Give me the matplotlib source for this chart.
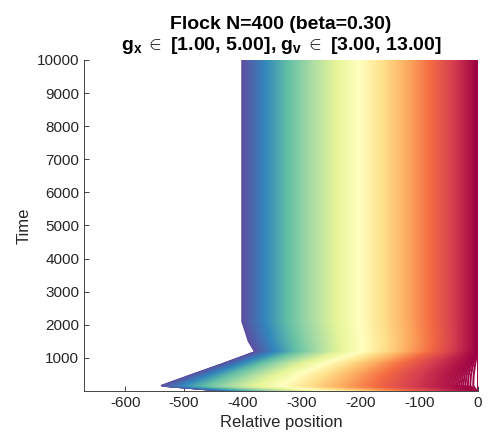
import numpy as np
import matplotlib
matplotlib.use("Agg")
from matplotlib import pyplot as plt
from matplotlib.collections import LineCollection

plt.rcParams['font.family'] = ['Liberation Sans', 'DejaVu Sans']
plt.rcParams['mathtext.fontset'] = 'custom'
plt.rcParams['mathtext.rm'] = 'Liberation Sans'
plt.rcParams['mathtext.bf'] = 'Liberation Sans:bold'
plt.rcParams['axes.unicode_minus'] = False

# flock settings
n_agents = 400

# key times of the flock envelope
key_times = [0, 160, 480, 800, 1180, 1500, 2100, 10000]
# position of the rearmost agent at those times (leader sits at 0)
rear_pos = [-430, -538, -488, -437, -379, -390, -401, -401]
# spacing exponent at those times (1 = even spacing)
spacing_exp = [0.9, 0.7, 0.7, 0.75, 0.95, 1.0, 1.0, 1.0]

xticks = [-600, -500, -400, -300, -200, -100, 0]
yticks = [1000, 2000, 3000, 4000, 5000, 6000, 7000, 8000, 9000, 10000]

fig = plt.figure(figsize=(4.89, 4.44), dpi=100)
ax = fig.add_axes([0.172, 0.1194, 0.8055, 0.7455])

s = np.arange(n_agents) / (n_agents - 1)   # 0 = rear, 1 = leader
cmap = plt.get_cmap('Spectral_r')

segs = []
cols = []
for i in range(n_agents):
    xs = [r * (1 - s[i]) ** p for r, p in zip(rear_pos, spacing_exp)]
    segs.append(np.column_stack([xs, key_times]))
    cols.append(cmap(s[i]))

lc = LineCollection(segs, colors=cols, linewidths=1.4)
ax.add_collection(lc)

ax.set_xlim(-670, 0)
ax.set_ylim(0, 10000)
ax.set_xticks(xticks)
ax.set_yticks(yticks)

grey = '#262626'
for side in ['top', 'right']:
    ax.spines[side].set_visible(False)
for side in ['left', 'bottom']:
    ax.spines[side].set_color(grey)
    ax.spines[side].set_linewidth(0.6)
ax.tick_params(direction='in', length=3.5, width=0.6, colors=grey,
               labelsize=11, labelcolor=grey)

ax.set_xlabel('Relative position', fontsize=12, color=grey)
ax.set_ylabel('Time', fontsize=12, color=grey)
ax.set_title('Flock N=400 (beta=0.30)\n'
             r'$\mathbf{g_x}\,\in$ [1.00, 5.00], $\mathbf{g_v}\,\in$ [3.00, 13.00]',
             fontsize=14, fontweight='bold', color='black', pad=7,
             linespacing=1.15)

fig.savefig('out.png', dpi=100)
